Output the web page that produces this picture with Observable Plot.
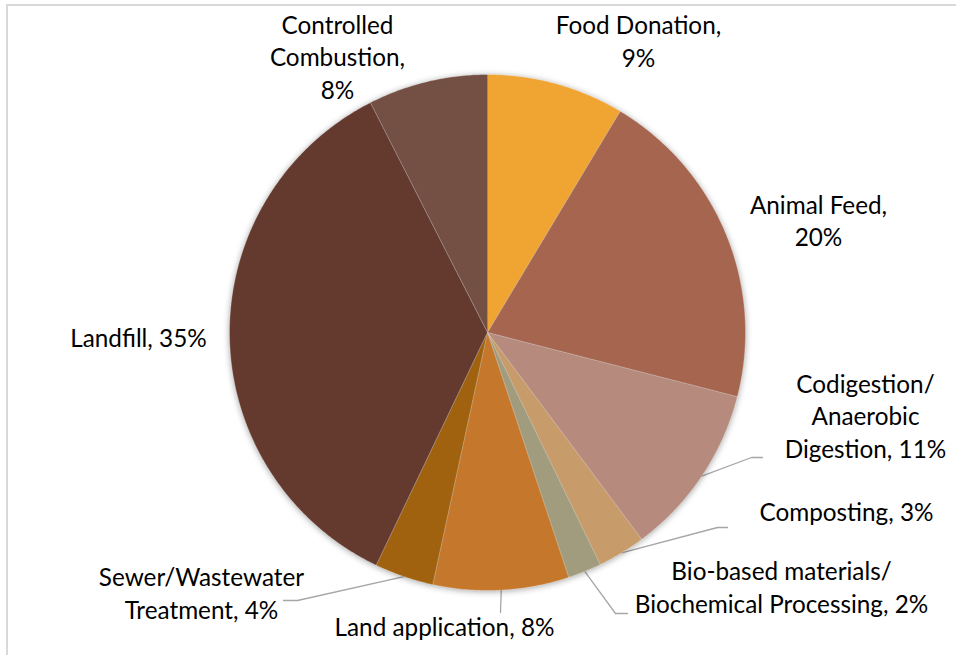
<!DOCTYPE html>
<html>
<head>
<meta charset="utf-8">
<script src="https://cdn.jsdelivr.net/npm/d3@7"></script>
<script src="https://cdn.jsdelivr.net/npm/@observablehq/plot@0.6"></script>
<style>
  html, body { margin: 0; padding: 0; background: #fff; overflow: hidden; }
  #wrap { position: relative; width: 956px; height: 655px; }
  #frame { position: absolute; left: 6px; top: 4px; width: 2000px; height: 2000px;
           border-left: 2px solid #d9d9d9; border-top: 2px solid #d9d9d9; pointer-events: none; }
  #chart { position: absolute; left: 0; top: 0; }
</style>
</head>
<body>
<div id="wrap"><div id="chart"></div><div id="frame"></div></div>
<script>
// ---- data ----
const categories = ["Food Donation", "Animal Feed", "Codigestion/ Anaerobic Digestion", "Composting",
  "Bio-based materials/ Biochemical Processing", "Land application", "Sewer/Wastewater Treatment",
  "Landfill", "Controlled Combustion"];
const values = [8.6, 20.4, 10.8, 3.0, 2.1, 8.5, 3.7, 35.4, 7.5];
const labelTexts = ["Food Donation,\n9%", "Animal Feed,\n20%", "Codigestion/\nAnaerobic\nDigestion, 11%",
  "Composting, 3%", "Bio-based materials/\nBiochemical Processing, 2%", "Land application, 8%",
  "Sewer/Wastewater\nTreatment, 4%", "Landfill, 35%", "Controlled\nCombustion,\n8%"];

// ---- styles / layout (separate from data) ----
const colors = ["#F0A431", "#A5654E", "#B68B7E", "#C89B6B", "#A09C7D", "#C5772B", "#A0620F", "#643A2F", "#734F44"];
const cx = 487, cy = 332, R = 258;
const labelX = [638, 818, 865, 846, 781, 444, 201, 138, 337];
const labelY = [39.5, 219, 414.5, 510, 585.5, 625, 591.5, 336, 55.5];
const leaderElbow = [null, null, [751, 457], [717, 527], [615, 613], [500, 612], [297, 600], null, null];
const leaderEnd   = [null, null, [762, 457], [727, 527], [627, 613], null, [283, 600], null, null];

// ---- geometry through d3.pie ----
const arcs = d3.pie().sort(null).value(d => d)(values);
const slicePts = [];
arcs.forEach((a, i) => {
  const name = categories[i];
  slicePts.push({name, x: cx, y: cy});
  const n = Math.max(2, Math.ceil((a.endAngle - a.startAngle) / (Math.PI / 360)));
  for (let k = 0; k <= n; k++) {
    const t = a.startAngle + (a.endAngle - a.startAngle) * k / n;
    slicePts.push({name, x: cx + R * Math.sin(t), y: cy - R * Math.cos(t)});
  }
});
const leaderPts = [];
arcs.forEach((a, i) => {
  if (!leaderElbow[i]) return;
  const m = (a.startAngle + a.endAngle) / 2;
  const id = categories[i];
  leaderPts.push({id, x: cx + R * Math.sin(m), y: cy - R * Math.cos(m)});
  leaderPts.push({id, x: leaderElbow[i][0], y: leaderElbow[i][1]});
  if (leaderEnd[i]) leaderPts.push({id, x: leaderEnd[i][0], y: leaderEnd[i][1]});
});
const labels = categories.map((c, i) => ({text: labelTexts[i], x: labelX[i], y: labelY[i]}));

const svg = Plot.plot({
  width: 956, height: 655, margin: 0,
  x: {domain: [0, 956], range: [0, 956], axis: null},
  y: {domain: [0, 655], range: [0, 655], axis: null},
  color: {domain: categories, range: colors},
  style: {background: "transparent", fontFamily: "Lato, 'Open Sans', sans-serif"},
  marks: [
    Plot.line(leaderPts, {x: "x", y: "y", z: "id", stroke: "#a6a6a6", strokeWidth: 1.3, curve: "linear"}),
    Plot.line(slicePts, {x: "x", y: "y", z: "name", fill: "name", stroke: "#ffffff", strokeWidth: 0.6, strokeOpacity: 0.45, curve: "linear"}),
    Plot.text(labels, {x: "x", y: "y", text: "text", fontSize: 24.3, lineHeight: 1.33, fill: "#000", lineAnchor: "middle", textAnchor: "middle"})
  ]
});
const groups = svg.querySelectorAll('g[aria-label="line"]');
if (groups[1]) groups[1].style.filter = "drop-shadow(0px 1.5px 3px rgba(0,0,0,0.35))";
document.getElementById("chart").appendChild(svg);
</script>
</body>
</html>
